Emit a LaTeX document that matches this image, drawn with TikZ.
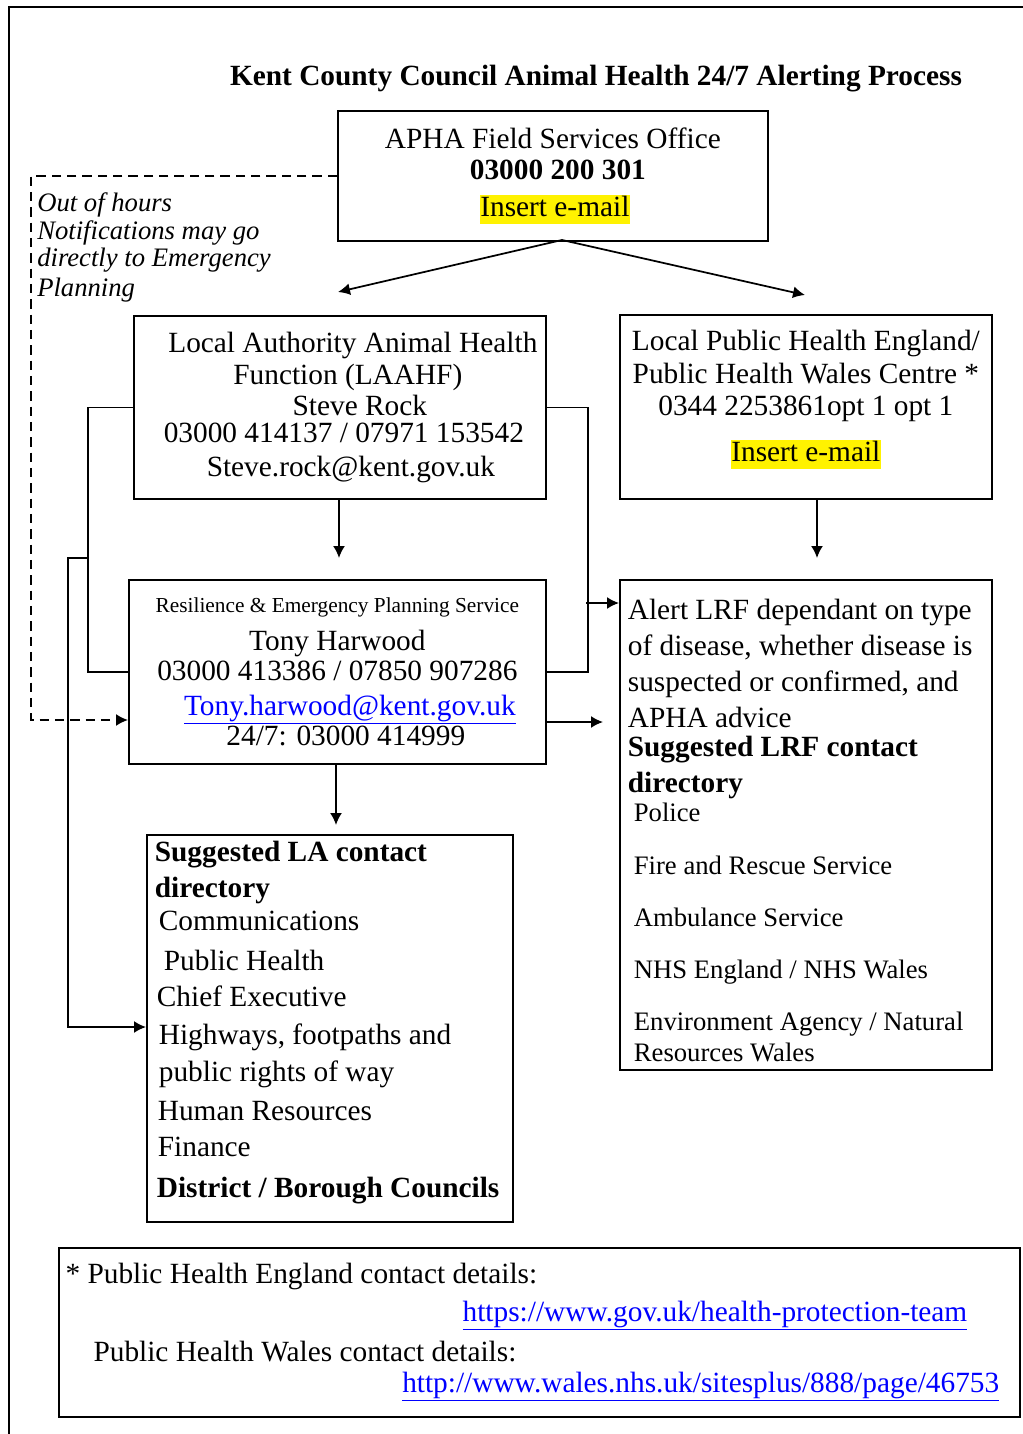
\documentclass[tikz,border=0pt]{standalone}
\usepackage{fontspec}
\setmainfont{Liberation Serif}
\usepackage{xcolor}
\usetikzlibrary{arrows.meta}

\newcommand{\hilite}[1]{{\setlength{\fboxsep}{0.6pt}\colorbox{yellow}{\rule[-0.22em]{0pt}{0.92em}#1}}}
\newcommand{\weblink}[1]{\textcolor{blue}{\underline{#1}}}

\begin{document}
\begin{tikzpicture}[x=0.75pt, y=-0.75pt,
  box/.style={draw, line width=1.3pt, fill=white, inner sep=0pt},
  dims/.style 2 args={minimum width=#1*0.75pt, minimum height=#2*0.75pt},
  line/.style={line width=1.3pt},
  arr/.style={line width=1.3pt, -{Latex[length=9pt,width=9pt]}},
  dashline/.style={arr, dash pattern=on 7pt off 4.5pt}]
  \useasboundingbox (0,0) rectangle (1022,1434);
  \draw[line] (9,1440) -- (9,7) -- (1030,7);

  \node[font=\fontsize{22}{26}\selectfont\bfseries] (title) at (596,79) {Kent County Council Animal Health 24/7 Alerting Process};

  \node[box, dims={430}{130}, anchor=north west, align=center, font=\fontsize{22}{23.25}\selectfont] (apha) at (337,110)
    {APHA Field Services Office\\ \hspace*{7.5pt}\textbf{03000 200 301}\\[4.5pt] \hspace*{3pt}\hilite{Insert e-mail}};
  \node[anchor=north west, inner sep=0pt, align=left, font=\fontsize{20}{21}\selectfont\itshape] (note) at (37,192)
    {Out of hours\\ Notifications may go\\[-0.75pt] directly to Emergency\\[1.5pt] Planning};

  \node[box, dims={412}{183}, anchor=north west, align=center, font=\fontsize{22}{24}\selectfont] (laahf) at (133,315)
    {\hspace*{19.5pt}Local Authority Animal Health\\ \hspace*{12pt}Function (LAAHF)\\[-0.75pt] \hspace*{30pt}Steve Rock\\[-3.75pt]
     \hspace*{6pt}03000 414137 / 07971 153542\\[1.5pt] \hspace*{16.5pt}Steve.rock@kent.gov.uk};
  \node[box, dims={372}{184}, anchor=north west, align=center, font=\fontsize{22}{25}\selectfont] (phe) at (619,314)
    {Local Public Health England/\\ Public Health Wales Centre *\\[-1pt] 0344 2253861opt 1 opt 1\\[9.5pt] \hilite{Insert e-mail}\\[-8pt] \mbox{}};

  \node[box, dims={417}{184}, anchor=north west, align=center, font=\fontsize{22}{24}\selectfont] (reps) at (128,579)
    {{\fontsize{16}{18}\selectfont Resilience \& Emergency Planning Service}\\[4.5pt] Tony Harwood\\[-1.5pt]
     03000 413386 / 07850 907286\\[2.25pt] \hspace*{18.75pt}\weblink{Tony.harwood@kent.gov.uk}\\[-1.5pt] \hspace*{12.75pt}24/7: 03000 414999};

  \node[box, dims={372}{490}, anchor=north west, align=flush left, text width=267pt, inner xsep=6pt, font=\fontsize{22}{27}\selectfont] (lrf) at (619,579)
    {\rule{0pt}{24pt}Alert LRF dependant on type\\ of disease, whether disease is\\ suspected or confirmed, and\\ APHA advice\\[-5.25pt]
     \textbf{Suggested LRF contact}\\ \textbf{directory}\\[-5.25pt]
     {\fontsize{20}{23}\selectfont\hspace*{4.5pt}Police}\\[12.75pt]
     {\fontsize{20}{23}\selectfont\hspace*{4.5pt}Fire and Rescue Service}\\[12pt]
     {\fontsize{20}{23}\selectfont\hspace*{4.5pt}Ambulance Service}\\[12pt]
     {\fontsize{20}{23}\selectfont\hspace*{4.5pt}NHS England / NHS Wales}\\[12pt]
     {\fontsize{20}{23}\selectfont\hspace*{4.5pt}Environment Agency / Natural}\\[-3.75pt]
     {\fontsize{20}{23}\selectfont\hspace*{4.5pt}Resources Wales}};

  \node[box, dims={366}{387}, anchor=north west, align=flush left, text width=262.5pt, inner xsep=6pt, font=\fontsize{22}{28}\selectfont] (ladir) at (146,834)
    {\textbf{Suggested LA contact}\\[-1pt] \textbf{directory}\\[-3.25pt] \hspace*{3pt}Communications\\[2pt]
     \hspace*{6.75pt}Public Health\\[-1pt] \hspace*{1.5pt}Chief Executive\\[0.5pt] \hspace*{3pt}Highways, footpaths and\\
     \hspace*{3pt}public rights of way\\[1.25pt] \hspace*{2.25pt}Human Resources\\[-1pt] \hspace*{2.25pt}Finance\\[2.75pt]
     \mbox{\hspace*{1.5pt}\textbf{District / Borough Councils}}\\[-14.2pt] \mbox{}};

  \node[box, dims={961}{169}, anchor=north west, align=flush left, text width=710.75pt, inner xsep=5pt, font=\fontsize{22}{28.5}\selectfont] (foot) at (58,1247)
    {\rule{0pt}{13pt}* Public Health England contact details:\\
     \hspace*{\fill}\weblink{https://www.gov.uk/health-protection-team}\hspace*{34.5pt}\mbox{}\\[1.5pt]
     \hspace*{21pt}Public Health Wales contact details:\\[-5.25pt]
     \hspace*{\fill}\weblink{http://www.wales.nhs.uk/sitesplus/888/page/46753}\hspace*{10.5pt}\mbox{}};

  \coordinate (fork) at (562,240);
  \coordinate (toLA) at (338,292);
  \coordinate (toPHE) at (805,295);
  \coordinate (toREPS) at (339,558);
  \coordinate (toLRF) at (817,558);
  \coordinate (toDir) at (336,825);
  \coordinate (ljoin) at (88,558);
  \coordinate (lcorner) at (68,1027);
  \coordinate (rjoin) at (586,603);
  \coordinate (rout) at (603,722);
  \coordinate (dcorner) at (31,720);

  \draw[arr] (fork) -- (toLA);
  \draw[arr] (fork) -- (toPHE);
  \draw[dashline] (apha.west) -| (dcorner) -- (dcorner -| reps.west);
  \draw[arr] (toREPS |- laahf.south) -- (toREPS);
  \draw[arr] (toLRF |- phe.south) -- (toLRF);
  \draw[line] (laahf.west) -- ++(-45,0) |- (reps.west);
  \draw[line] (laahf.east) -- ++(41,0) |- (reps.east);
  \draw[arr] (rjoin) -- (rjoin -| lrf.west);
  \draw[arr] (rout -| reps.east) -- (rout);
  \draw[arr] (toDir |- reps.south) -- (toDir);
  \draw[arr] (ljoin) -| (lcorner) -- (lcorner -| ladir.west);
\end{tikzpicture}
\end{document}
